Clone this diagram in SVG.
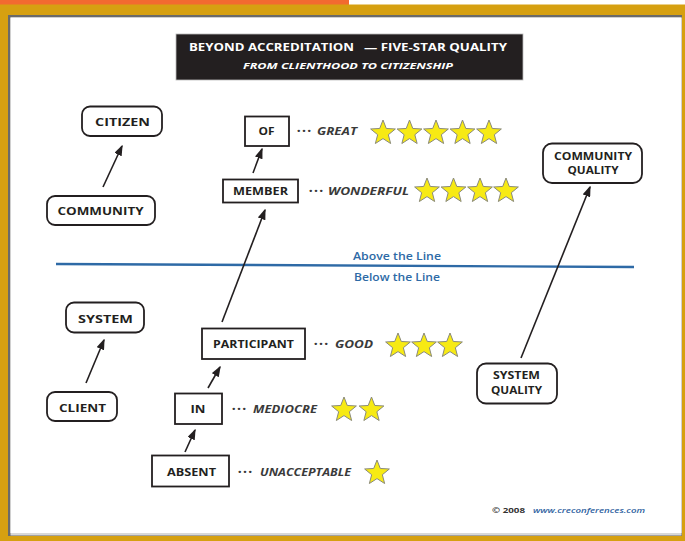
<svg xmlns="http://www.w3.org/2000/svg" width="685" height="541" viewBox="0 0 685 541">
  <style>
    .lbl { font-family: "Open Sans", "Liberation Sans", sans-serif; font-weight: 700; font-size: 11px; fill: #231f20; text-anchor: middle; }
    .rate { font-family: "Open Sans", "Liberation Sans", sans-serif; font-weight: 700; font-style: italic; font-size: 10.5px; fill: #3a3a3a; }
    .dots { font-family: "Open Sans", "Liberation Sans", sans-serif; font-weight: 800; font-size: 12px; fill: #3a3a3a; }
    .rbox { fill: #fff; stroke: #231f20; stroke-width: 1.8; }
    .sbox { fill: #fff; stroke: #231f20; stroke-width: 1.8; }
    .conn { stroke: #231f20; stroke-width: 1.6; fill: none; marker-end: url(#head); }
    .lineTxt { font-family: "Open Sans", "Liberation Sans", sans-serif; font-weight: 600; font-size: 11px; fill: #2e6aa6; text-anchor: middle; }
  </style>
  <defs>
    <marker id="head" markerUnits="userSpaceOnUse" markerWidth="11" markerHeight="8" refX="9.5" refY="4" orient="auto">
      <path d="M0,0 L11,4 L0,8 Z" fill="#231f20"/>
    </marker>
    <path id="star" d="M0,-13 L3.29,-4.53 L12.36,-4.02 L5.33,1.73 L7.64,10.52 L0,5.6 L-7.64,10.52 L-5.33,1.73 L-12.36,-4.02 L-3.29,-4.53 Z" fill="#f7ea14" stroke="#8a8a7a" stroke-width="1" stroke-linejoin="round"/>
  </defs>

  <!-- frame -->
  <rect x="0" y="0" width="685" height="541" fill="#d6a011"/>
  <rect x="349" y="0" width="336" height="4.5" fill="#ffffff"/>
  <rect x="0" y="0" width="349" height="4.5" fill="#f26a30"/>
  <rect x="8" y="15" width="674" height="521" fill="#6a6a6a"/>
  <rect x="10.5" y="17.5" width="671" height="518" fill="#d8d8d8"/>
  <rect x="10.5" y="17.5" width="671" height="515.5" fill="#ffffff"/>

  <!-- title -->
  <g id="title">
    <rect x="176" y="34" width="347" height="46" fill="#231f20" stroke="#bbbbbb" stroke-width="0.8"/>
    <text x="189" y="51" font-family="'Open Sans', 'Liberation Sans', sans-serif" font-weight="700" font-size="10.5" fill="#ffffff" textLength="165" lengthAdjust="spacingAndGlyphs">BEYOND ACCREDITATION</text>
    <text x="364" y="51" font-family="'Open Sans', 'Liberation Sans', sans-serif" font-weight="700" font-size="10.5" fill="#ffffff" textLength="143" lengthAdjust="spacingAndGlyphs">— FIVE-STAR QUALITY</text>
    <text x="348" y="69" font-family="'Open Sans', 'Liberation Sans', sans-serif" font-weight="700" font-style="italic" font-size="9.5" fill="#ffffff" text-anchor="middle" textLength="210" lengthAdjust="spacingAndGlyphs">FROM CLIENTHOOD TO CITIZENSHIP</text>
  </g>

  <!-- dividing line -->
  <g id="divider">
    <line x1="56" y1="264" x2="634" y2="267" stroke="#2e6aa6" stroke-width="2.4"/>
    <text class="lineTxt" x="397" y="259.5" textLength="88" lengthAdjust="spacingAndGlyphs">Above the Line</text>
    <text class="lineTxt" x="397" y="280.5" textLength="86" lengthAdjust="spacingAndGlyphs">Below the Line</text>
  </g>

  <!-- connectors -->
  <g id="connectors">
    <line class="conn" x1="103" y1="187" x2="122" y2="146"/>
    <line class="conn" x1="253" y1="173" x2="262" y2="149"/>
    <line class="conn" x1="222" y1="322" x2="265" y2="210"/>
    <line class="conn" x1="208" y1="388" x2="220" y2="367"/>
    <line class="conn" x1="185" y1="452" x2="195" y2="430"/>
    <line class="conn" x1="86" y1="383" x2="104" y2="340"/>
    <line class="conn" x1="521" y1="358" x2="590" y2="187"/>
  </g>

  <!-- left column -->
  <g id="citizen">
    <rect class="rbox" x="82" y="106.5" width="80" height="29.5" rx="8"/>
    <text class="lbl" x="122.5" y="126" textLength="55" lengthAdjust="spacingAndGlyphs">CITIZEN</text>
  </g>
  <g id="community">
    <rect class="rbox" x="47" y="196" width="108" height="29" rx="8"/>
    <text class="lbl" x="100.5" y="215" textLength="86" lengthAdjust="spacingAndGlyphs">COMMUNITY</text>
  </g>
  <g id="system">
    <rect class="rbox" x="66" y="302.5" width="78" height="30" rx="8"/>
    <text class="lbl" x="105.5" y="323" textLength="55" lengthAdjust="spacingAndGlyphs">SYSTEM</text>
  </g>
  <g id="client">
    <rect class="rbox" x="47" y="392" width="70" height="29" rx="8"/>
    <text class="lbl" x="82.5" y="412" textLength="47" lengthAdjust="spacingAndGlyphs">CLIENT</text>
  </g>

  <!-- ladder -->
  <g id="of">
    <rect class="sbox" x="245" y="116.5" width="44" height="29.5"/>
    <text class="lbl" x="266.5" y="135" textLength="16" lengthAdjust="spacingAndGlyphs">OF</text>
    <text class="dots" x="297" y="135" textLength="14" lengthAdjust="spacing">···</text>
    <text class="rate" x="317" y="135" textLength="40" lengthAdjust="spacingAndGlyphs">GREAT</text>
    <use href="#star" x="383" y="133"/>
    <use href="#star" x="409.5" y="133"/>
    <use href="#star" x="436" y="133"/>
    <use href="#star" x="462.5" y="133"/>
    <use href="#star" x="489" y="133"/>
  </g>
  <g id="member">
    <rect class="sbox" x="223" y="179.5" width="75" height="23"/>
    <text class="lbl" x="260.5" y="195" textLength="55" lengthAdjust="spacingAndGlyphs">MEMBER</text>
    <text class="dots" x="309" y="195" textLength="14" lengthAdjust="spacing">···</text>
    <text class="rate" x="328" y="195" textLength="81" lengthAdjust="spacingAndGlyphs">WONDERFUL</text>
    <use href="#star" x="427" y="191"/>
    <use href="#star" x="453.5" y="191"/>
    <use href="#star" x="480" y="191"/>
    <use href="#star" x="506" y="191"/>
  </g>
  <g id="participant">
    <rect class="sbox" x="202" y="328.5" width="103" height="30.5"/>
    <text class="lbl" x="253.5" y="348" textLength="81" lengthAdjust="spacingAndGlyphs">PARTICIPANT</text>
    <text class="dots" x="314" y="348" textLength="14" lengthAdjust="spacing">···</text>
    <text class="rate" x="335" y="348" textLength="38" lengthAdjust="spacingAndGlyphs">GOOD</text>
    <use href="#star" x="398" y="346"/>
    <use href="#star" x="424" y="346"/>
    <use href="#star" x="450" y="346"/>
  </g>
  <g id="in">
    <rect class="sbox" x="175" y="393.5" width="47" height="30.5"/>
    <text class="lbl" x="198" y="413" textLength="15" lengthAdjust="spacingAndGlyphs">IN</text>
    <text class="dots" x="232" y="413" textLength="14" lengthAdjust="spacing">···</text>
    <text class="rate" x="253" y="413" textLength="64" lengthAdjust="spacingAndGlyphs">MEDIOCRE</text>
    <use href="#star" x="344" y="410"/>
    <use href="#star" x="371.5" y="410"/>
  </g>
  <g id="absent">
    <rect class="sbox" x="152" y="455.5" width="77" height="31"/>
    <text class="lbl" x="191.5" y="476" textLength="49" lengthAdjust="spacingAndGlyphs">ABSENT</text>
    <text class="dots" x="238" y="476" textLength="14" lengthAdjust="spacing">···</text>
    <text class="rate" x="260" y="476" textLength="91" lengthAdjust="spacingAndGlyphs">UNACCEPTABLE</text>
    <use href="#star" x="377" y="473"/>
  </g>

  <!-- right column -->
  <g id="community-quality">
    <rect class="rbox" x="543" y="143.5" width="99" height="39.5" rx="9"/>
    <text class="lbl" x="593" y="160" textLength="78" lengthAdjust="spacingAndGlyphs">COMMUNITY</text>
    <text class="lbl" x="593" y="174" textLength="51" lengthAdjust="spacingAndGlyphs">QUALITY</text>
  </g>
  <g id="system-quality">
    <rect class="rbox" x="477" y="363.5" width="80" height="40" rx="9"/>
    <text class="lbl" x="516.5" y="379" textLength="47" lengthAdjust="spacingAndGlyphs">SYSTEM</text>
    <text class="lbl" x="516.5" y="394" textLength="51" lengthAdjust="spacingAndGlyphs">QUALITY</text>
  </g>

  <!-- footer -->
  <g id="footer">
    <text x="492" y="513" font-family="'Open Sans', 'Liberation Sans', sans-serif" font-weight="700" font-size="7.5" fill="#333333" textLength="33" lengthAdjust="spacingAndGlyphs">© 2008</text>
    <text x="533" y="513" font-family="'Open Sans', 'Liberation Sans', sans-serif" font-weight="600" font-style="italic" font-size="7.5" fill="#2e5fa0" textLength="112" lengthAdjust="spacingAndGlyphs">www.creconferences.com</text>
  </g>
</svg>
